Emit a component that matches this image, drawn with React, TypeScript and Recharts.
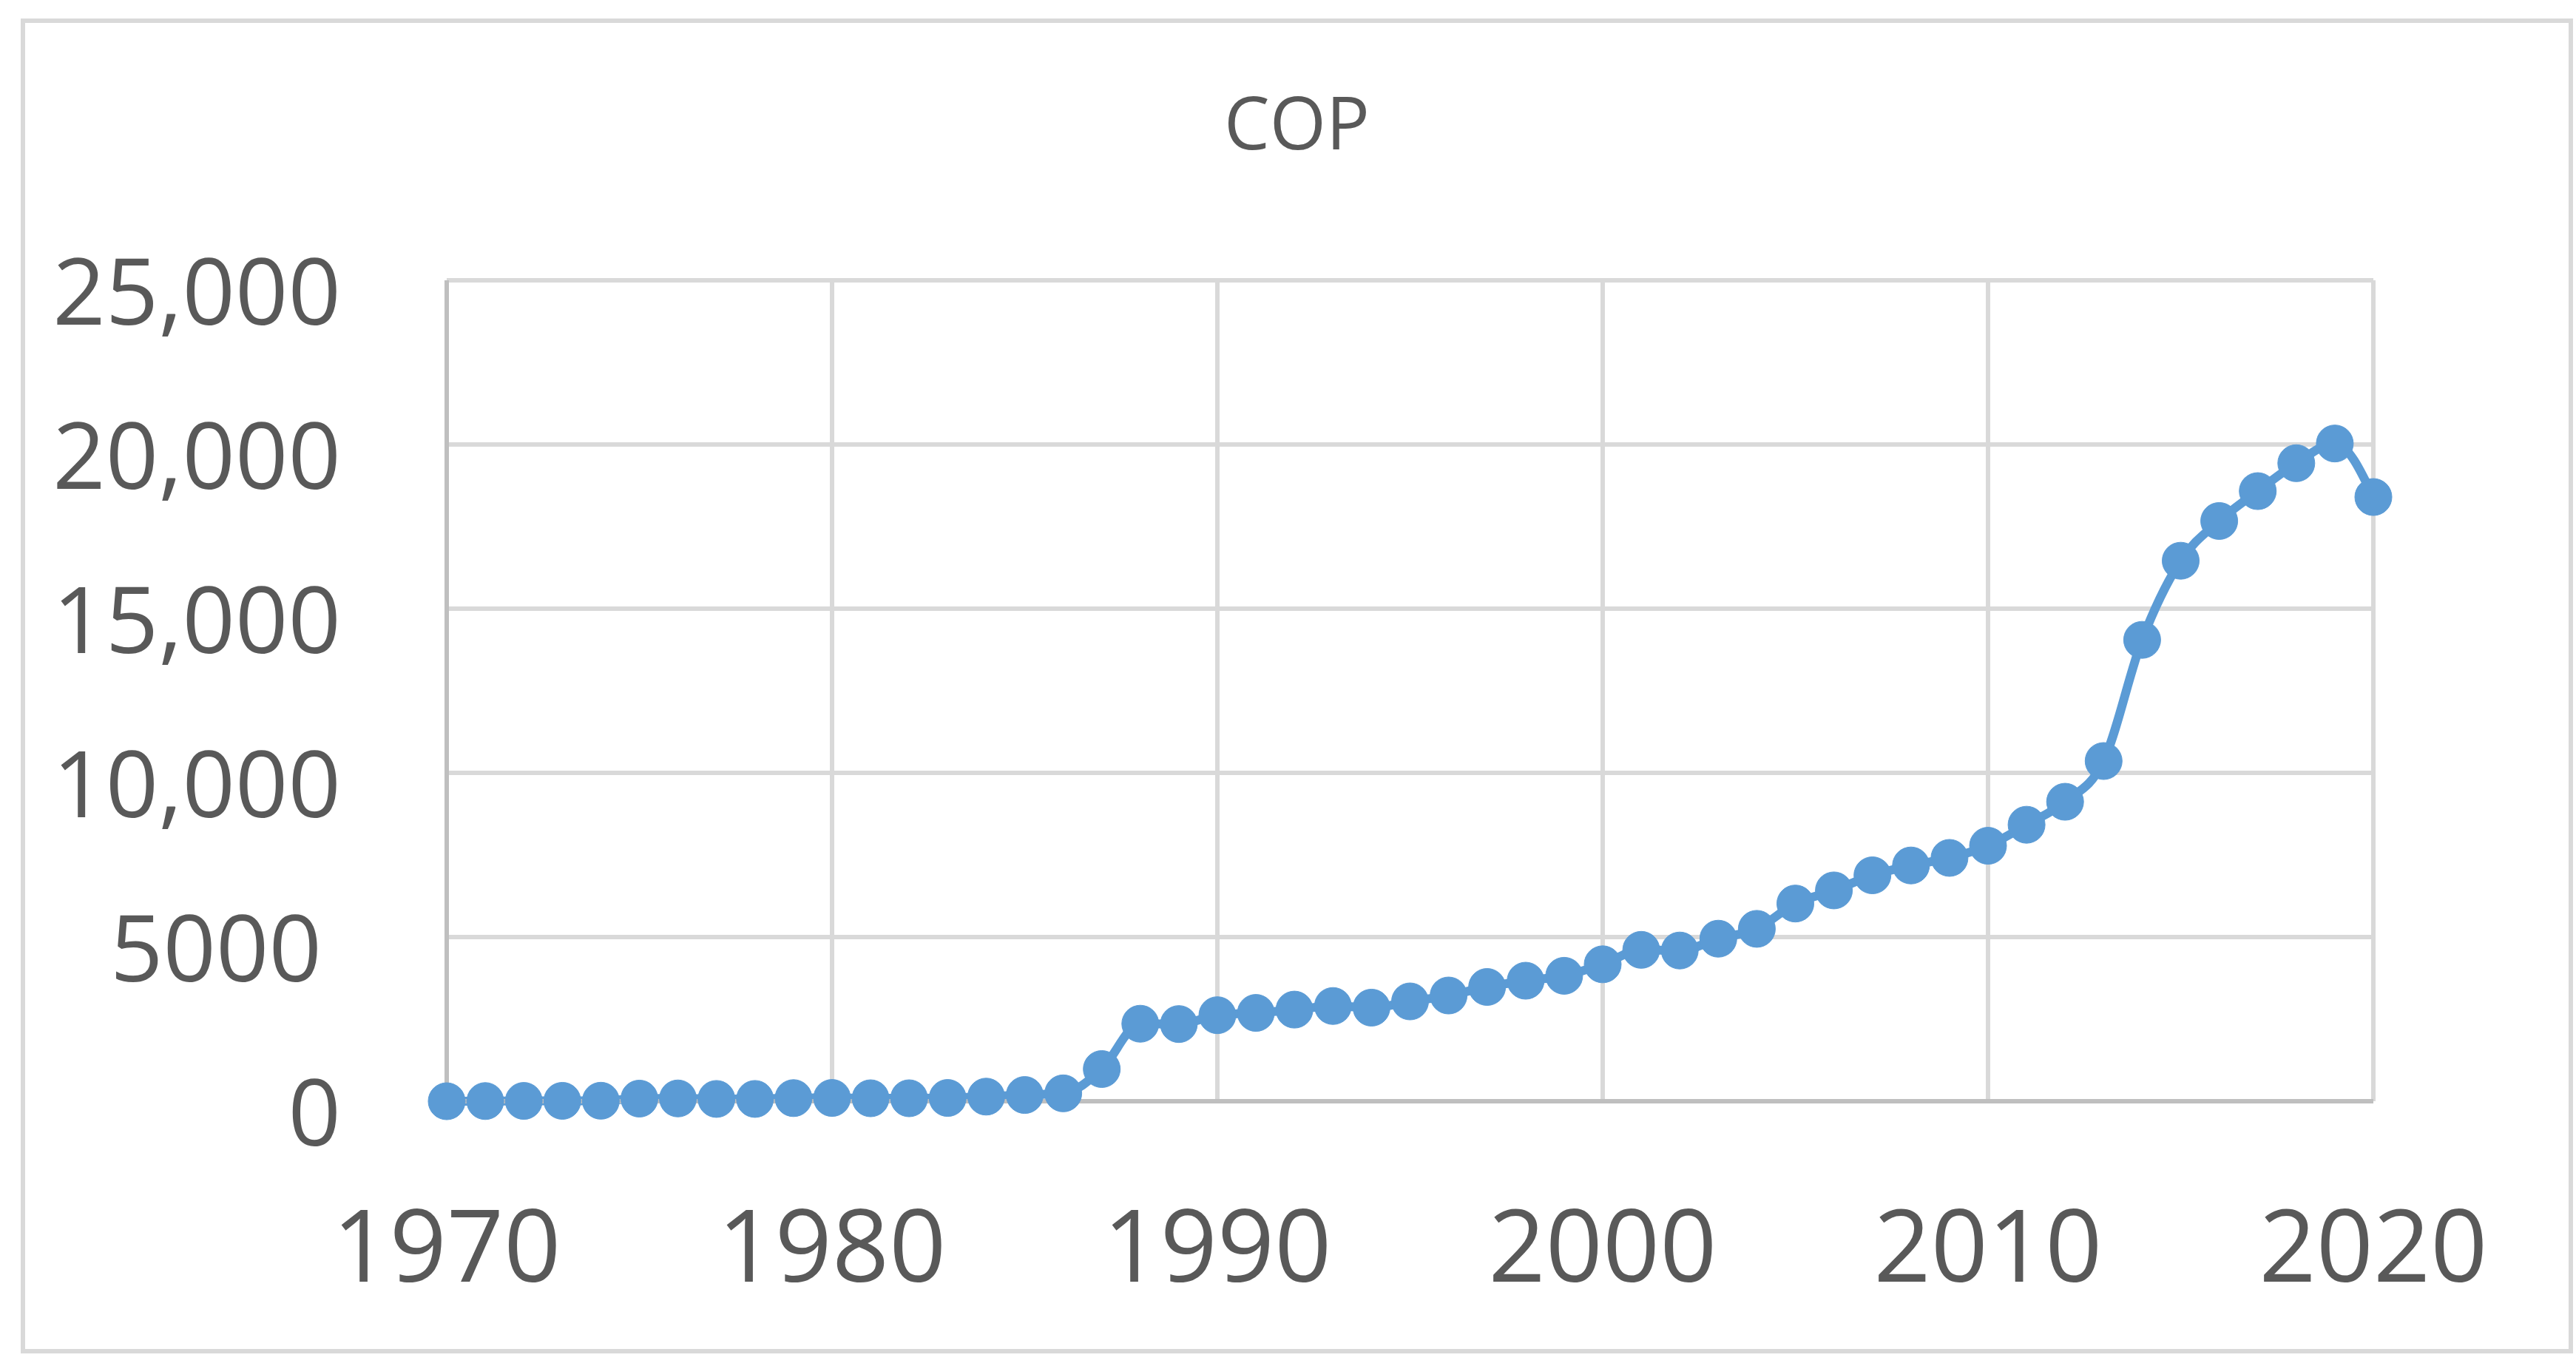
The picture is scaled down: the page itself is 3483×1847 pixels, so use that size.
import { LineChart, Line, XAxis, YAxis, CartesianGrid } from "recharts";

// COP, 1970-2020, values
const years = [
  1970, 1971, 1972, 1973, 1974, 1975, 1976, 1977, 1978, 1979,
  1980, 1981, 1982, 1983, 1984, 1985, 1986, 1987, 1988, 1989,
  1990, 1991, 1992, 1993, 1994, 1995, 1996, 1997, 1998, 1999,
  2000, 2001, 2002, 2003, 2004, 2005, 2006, 2007, 2008, 2009,
  2010, 2011, 2012, 2013, 2014, 2015, 2016, 2017, 2018, 2019,
  2020,
];
const cop = [
  0, 5, 10, 12, 15, 80, 85, 70, 70, 95,
  100, 90, 90, 100, 140, 190, 240, 980, 2360, 2350,
  2620, 2690, 2790, 2900, 2850, 3040, 3220, 3480, 3670, 3820,
  4170, 4610, 4590, 4950, 5250, 6020, 6420, 6880, 7180, 7410,
  7780, 8420, 9120, 10360, 14050, 16460, 17670, 18580, 19430, 20030,
  18400,
];
const xTicks = [1970, 1980, 1990, 2000, 2010, 2020];
const yTicks = [0, 5000, 10000, 15000, 20000, 25000];
const yTickLabels = ["0", "5000", "10,000", "15,000", "20,000", "25,000"];
const title = "COP";

const data = years.map((year, i) => ({ year, cop: cop[i] }));

const FONT = "'Open Sans', 'Liberation Sans', sans-serif";
const TEXT = "#595959";
const BLUE = "#5b9bd5";

function YTick(props: any) {
  const { x, y, payload } = props;
  const label = yTickLabels[yTicks.indexOf(payload.value)] ?? String(payload.value);
  // the "5000" label sits a little further left in the original
  const shift = label.length === 4 ? 26 : 0;
  return (
    <text x={x - shift} y={y} dy={60} textAnchor="end" fill={TEXT} fontSize={125} fontFamily={FONT}>
      {label}
    </text>
  );
}

function XTick(props: any) {
  const { x, y, payload } = props;
  return (
    <text x={x} y={y} dy={96} textAnchor="middle" fill={TEXT} fontSize={135} fontFamily={FONT}>
      {payload.value}
    </text>
  );
}

export default function App() {
  return (
    <div
      style={{
        position: "absolute",
        left: 28,
        top: 25,
        width: 3451,
        height: 1805,
        border: "6px solid #d9d9d9",
        boxSizing: "border-box",
        background: "#fff",
      }}
    >
      <div
        style={{
          position: "absolute",
          left: 0,
          right: 0,
          top: 84,
          textAlign: "center",
          fontFamily: FONT,
          fontSize: 98,
          lineHeight: 1,
          color: TEXT,
        }}
      >
        {title}
      </div>
      <LineChart
        width={3439}
        height={1793}
        data={data}
        margin={{ top: 348, right: 264, bottom: 0, left: 0 }}
      >
        <CartesianGrid stroke="#d9d9d9" strokeWidth={6} />
        <XAxis
          dataKey="year"
          type="number"
          domain={[1970, 2020]}
          ticks={xTicks}
          height={335}
          stroke="#bfbfbf"
          strokeWidth={6}
          tickLine={false}
          tickSize={0}
          tickMargin={148}
          tick={<XTick />}
        />
        <YAxis
          domain={[0, 25000]}
          ticks={yTicks}
          width={570}
          stroke="#bfbfbf"
          strokeWidth={6}
          tickLine={false}
          tickSize={0}
          tickMargin={143}
          tick={<YTick />}
        />
        <Line
          type="monotone"
          dataKey="cop"
          stroke={BLUE}
          strokeWidth={12}
          dot={{ r: 25, fill: BLUE, stroke: BLUE, strokeWidth: 1 }}
          activeDot={false}
          isAnimationActive={false}
        />
      </LineChart>
    </div>
  );
}
